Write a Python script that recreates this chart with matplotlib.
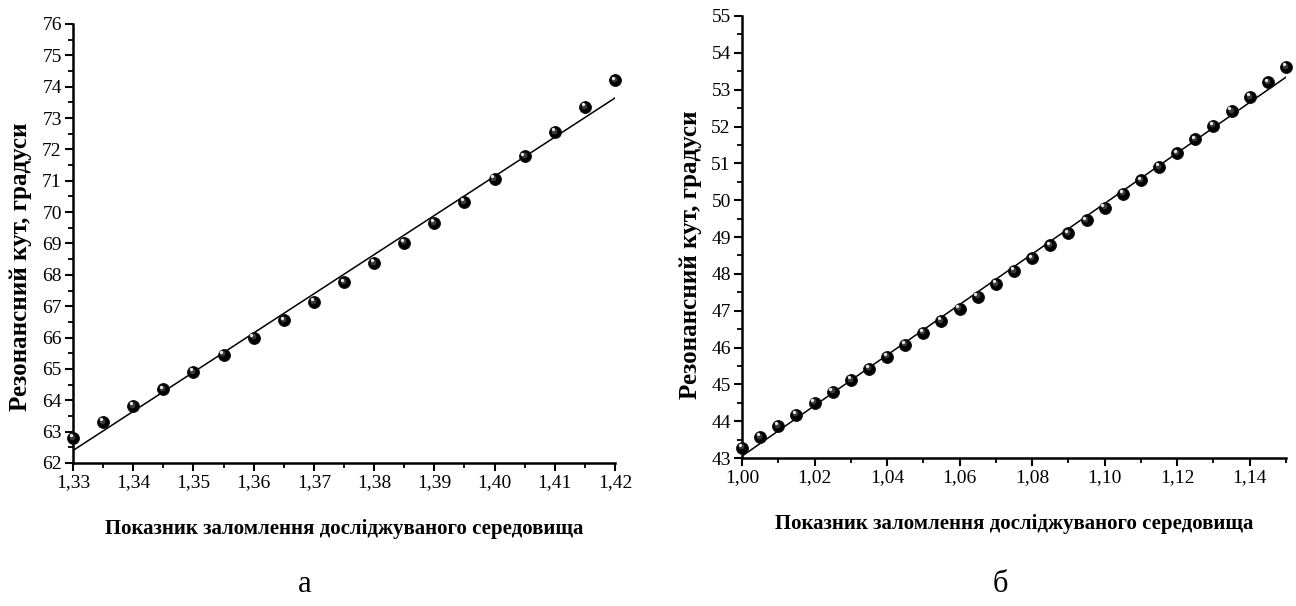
import numpy as np
import matplotlib
matplotlib.use('Agg')
import matplotlib.pyplot as plt
from matplotlib.ticker import MultipleLocator, FuncFormatter
from matplotlib.transforms import offset_copy

plt.rcParams['font.family'] = ['Liberation Serif', 'DejaVu Serif']

# refractive index of the medium vs resonance angle (panel a)
n_a = [1.330, 1.335, 1.340, 1.345, 1.350, 1.355, 1.360, 1.365, 1.370, 1.375,
       1.380, 1.385, 1.390, 1.395, 1.400, 1.405, 1.410, 1.415, 1.420]
theta_a = [62.80, 63.30, 63.82, 64.35, 64.90, 65.45, 66.00, 66.55, 67.13, 67.76,
           68.37, 69.02, 69.65, 70.32, 71.05, 71.78, 72.55, 73.35, 74.20]

# panel b
n_b = [1.000, 1.005, 1.010, 1.015, 1.020, 1.025, 1.030, 1.035, 1.040, 1.045,
       1.050, 1.055, 1.060, 1.065, 1.070, 1.075, 1.080, 1.085, 1.090, 1.095,
       1.100, 1.105, 1.110, 1.115, 1.120, 1.125, 1.130, 1.135, 1.140, 1.145,
       1.150]
theta_b = [43.28, 43.57, 43.87, 44.18, 44.50, 44.80, 45.12, 45.43, 45.75, 46.08,
           46.40, 46.72, 47.05, 47.38, 47.72, 48.07, 48.42, 48.77, 49.10, 49.45,
           49.80, 50.18, 50.54, 50.90, 51.27, 51.65, 52.02, 52.42, 52.80, 53.20,
           53.61]

xlabel = 'Показник заломлення досліджуваного середовища'
ylabel = 'Резонансний кут, градуси'

comma = lambda fmt: FuncFormatter(lambda v, p: (fmt % v).replace('.', ','))


def spheres(ax, x, y):
    ax.plot(x, y, 'o', ms=8.6, color='black', mec='#111111', mew=0.6,
            zorder=3, clip_on=False)
    mid = offset_copy(ax.transData, fig=ax.figure, x=-0.8, y=1.0, units='points')
    ax.plot(x, y, 'o', ms=4.2, color='#3a3a3a', mew=0, transform=mid,
            zorder=4, clip_on=False)
    hl = offset_copy(ax.transData, fig=ax.figure, x=-1.6, y=2.0, units='points')
    ax.plot(x, y, 'o', ms=2.4, color='#e6e6e6', mew=0, transform=hl,
            zorder=5, clip_on=False)


def panel(ax, x, y, xlim, ylim, xmaj, xmin, xfmt, ylab_xy):
    k, b = np.polyfit(x, y, 1)
    xs = np.array(xlim)
    ax.plot(xs, k * xs + b, color='black', lw=1.1, zorder=2)
    spheres(ax, x, y)
    ax.set_xlim(*xlim)
    ax.set_ylim(*ylim)
    for s in ('top', 'right'):
        ax.spines[s].set_visible(False)
    for s in ('left', 'bottom'):
        ax.spines[s].set_linewidth(1.8)
    ax.xaxis.set_major_locator(MultipleLocator(xmaj))
    ax.xaxis.set_minor_locator(MultipleLocator(xmin))
    ax.yaxis.set_major_locator(MultipleLocator(1))
    ax.yaxis.set_minor_locator(MultipleLocator(0.5))
    ax.xaxis.set_major_formatter(comma(xfmt))
    ax.yaxis.set_major_formatter(comma('%d'))
    ax.tick_params(which='major', direction='out', length=6, width=1.5,
                   labelsize=14, pad=2)
    ax.tick_params(which='minor', direction='out', length=3.5, width=1.3)
    ax.set_xlabel(xlabel, fontsize=15, fontweight='bold', labelpad=20)
    ax.set_ylabel(ylabel, fontsize=18, fontweight='bold')
    ax.yaxis.set_label_coords(*ylab_xy)


fig = plt.figure(figsize=(12.96, 6.06), dpi=100)
ax1 = fig.add_axes([0.0563, 0.236, 0.4182, 0.7244])
ax2 = fig.add_axes([0.5725, 0.2442, 0.4198, 0.7294])

panel(ax1, n_a, theta_a, (1.33, 1.42), (62, 76), 0.01, 0.005, '%.2f',
      (-0.076, 0.446))
panel(ax2, n_b, theta_b, (1.00, 1.15), (43, 55), 0.02, 0.01, '%.2f',
      (-0.074, 0.459))

fig.text(0.2353, 0.036, 'а', fontsize=22, ha='center', va='center')
fig.text(0.7716, 0.036, 'б', fontsize=22, ha='center', va='center')

fig.savefig('out.png', dpi=100, facecolor='white')
